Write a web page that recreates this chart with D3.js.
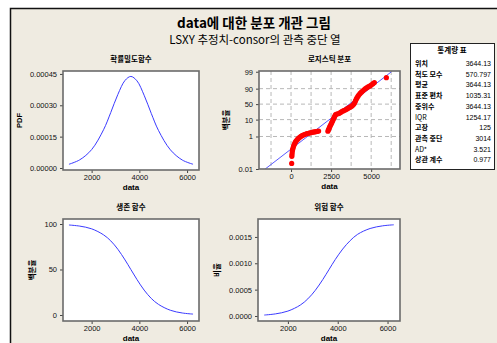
<!DOCTYPE html>
<html>
<head>
<meta charset="utf-8">
<script src="https://cdn.jsdelivr.net/npm/d3@7"></script>
<style>
  body { margin: 0; background: #fff; }
  svg text { font-family: "Liberation Sans", Arial, sans-serif; }
  .kr { font-family: "Noto Sans CJK KR", "Noto Sans", sans-serif; }
</style>
</head>
<body>
<svg width="497" height="343"></svg>
<script>
// fitted logistic curves
const curveX = [1050, 1500, 2000, 2500, 2800, 3100, 3400, 3644, 3900, 4200, 4500, 4800, 5300, 5800, 6250];
const pdfValues = [0.000018, 0.000039, 0.000088, 0.000183, 0.000265, 0.000352, 0.000419, 0.000438,
    0.000417, 0.000348, 0.000261, 0.000180, 0.000087, 0.000038, 0.000018];
const survivalValues = [98.9, 97.7, 94.7, 88.1, 81.5, 72.2, 60.5, 50, 39, 27.4, 18.2, 11.7, 5.2, 2.2, 1.0];
const hazardValues = [0.000018, 0.000040, 0.000093, 0.000208, 0.000325, 0.000487, 0.000691, 0.000876,
    0.00107, 0.00127, 0.00143, 0.00155, 0.00166, 0.00171, 0.00173];

// probability plot: failure times and plotting positions (%)
const failureTimes = [40, 50, 60, 75, 95, 120, 150, 185, 220, 260, 300, 350, 400, 450, 500, 560, 620, 690,
    760, 840, 920, 1000, 1090, 1180, 1270, 1360, 1450, 1540, 1640, 1720,
    2300, 2340, 2380, 2420, 2460, 2500, 2540, 2580, 2620, 2660, 2700, 2740, 2780, 2850, 2930, 3010,
    3090, 3170, 3250, 3330, 3410, 3490, 3570, 3650, 3730, 3800, 3860, 3920, 3970, 4020, 4070, 4120,
    4180, 4240, 4310, 4390, 4470, 4550, 4640, 4730, 4830, 4930, 5020, 5110, 5200, 5950];
const failurePercent = [0.022, 0.06, 0.08, 0.11, 0.15, 0.19, 0.24, 0.30, 0.36, 0.43, 0.50, 0.58, 0.66, 0.75,
    0.84, 0.93, 1.02, 1.12, 1.22, 1.32, 1.42, 1.50, 1.58, 1.66, 1.74, 1.82, 1.90, 1.97, 2.05, 2.12,
    2.1, 2.6, 3.2, 3.9, 4.7, 5.6, 6.7, 8.0, 9.6, 11.4, 13.5, 16.0, 18.5, 19.5, 20.3, 21.2,
    23.5, 25.8, 27.5, 29.3, 31.0, 33.5, 36.0, 38.5, 41.0, 43.5, 46.5, 50.0, 55.0, 61.0, 67.0, 71.5,
    75.5, 79.0, 82.0, 84.5, 86.5, 88.5, 90.0, 91.2, 92.2, 93.0, 94.0, 94.8, 95.5, 97.7];
const fitLineX = [-1613, 6267];
const fitLinePercent = [0.01, 99];

const probTicks = [0.01, 1, 10, 50, 90, 99];
const probGrid = [-1250, 0, 1250, 2500, 3750, 5000, 6250];

const statLabels = ["위치", "척도 모수", "평균", "표준 편차", "중위수", "IQR", "고장", "관측 중단", "AD*", "상관 계수"];
const statValues = ["3644.13", "570.797", "3644.13", "1035.31", "3644.13", "1254.17", "125", "3014", "3.521", "0.977"];

const svg = d3.select("svg");

svg.append("rect")
    .attr("x", 10.5).attr("y", 8.5)
    .attr("width", 500).attr("height", 350)
    .attr("fill", "#EFEBE1")
    .attr("stroke", "#111")
    .attr("stroke-width", 1.5);

svg.append("text").attr("class", "kr")
    .attr("x", 254).attr("y", 28)
    .attr("text-anchor", "middle")
    .attr("font-size", 13.5).attr("font-weight", "bold")
    .text("data에 대한 분포 개관 그림");
svg.append("text").attr("class", "kr")
    .attr("x", 255).attr("y", 44)
    .attr("text-anchor", "middle")
    .attr("font-size", 11.5)
    .text("LSXY 추정치-consor의 관측 중단 열");

const logit = p => Math.log(p / (1 - p));

function styleAxes(xa, ya) {
    [xa, ya].forEach(a => {
        a.select(".domain").remove();
        a.selectAll("line").attr("stroke", "#444");
        a.selectAll("text").attr("font-size", 7.5).attr("fill", "#111")
            .attr("font-family", "Liberation Sans, Arial, sans-serif");
    });
    xa.selectAll("text").attr("y", 10).attr("dy", 0);
}

function panelBase(box, title) {
    const g = svg.append("g");
    g.append("rect")
        .attr("x", box.x0).attr("y", box.y0)
        .attr("width", box.x1 - box.x0).attr("height", box.y1 - box.y0)
        .attr("fill", "#fff");
    g.append("text").attr("class", "kr")
        .attr("x", (box.x0 + box.x1) / 2).attr("y", box.y0 - 9)
        .attr("text-anchor", "middle")
        .attr("font-size", 7.5).attr("font-weight", "bold")
        .text(title);
    g.append("text")
        .attr("x", (box.x0 + box.x1) / 2).attr("y", box.y1 + 20)
        .attr("text-anchor", "middle")
        .attr("font-size", 8).attr("font-weight", "bold")
        .text("data");
    return g;
}

function yLabel(g, box, text, x, cls) {
    g.append("text").attr("class", cls)
        .attr("transform", `translate(${x},${(box.y0 + box.y1) / 2}) rotate(-90)`)
        .attr("text-anchor", "middle")
        .attr("font-size", 7.5).attr("font-weight", "bold")
        .text(text);
}

function panel(box, title, ylab, ylabX, xScale, yScale, xTicks, yTicks, yFmt) {
    const g = panelBase(box, title);
    const xa = g.append("g")
        .attr("transform", `translate(0,${box.y1})`)
        .call(d3.axisBottom(xScale).tickValues(xTicks).tickSize(3).tickSizeOuter(0).tickFormat(d3.format("d")));
    const ya = g.append("g")
        .attr("transform", `translate(${box.x0},0)`)
        .call(d3.axisLeft(yScale).tickValues(yTicks).tickSize(3).tickSizeOuter(0).tickFormat(yFmt));
    styleAxes(xa, ya);
    yLabel(g, box, ylab, ylabX, ylab === "PDF" ? "" : "kr");
    return g;
}

function frame(g, box) {
    g.append("rect")
        .attr("x", box.x0).attr("y", box.y0)
        .attr("width", box.x1 - box.x0).attr("height", box.y1 - box.y0)
        .attr("fill", "none")
        .attr("stroke", "#6b6b6b")
        .attr("stroke-width", 1.6);
}

const curveLine = (x, y, vals) => d3.line()
    .x((d, i) => x(curveX[i]))
    .y(d => y(d))
    .curve(d3.curveCatmullRom)(vals);

// probability density
{
    const box = {x0: 63, x1: 199, y0: 71, y1: 170};
    const x = d3.scaleLinear().domain([800, 6500]).range([box.x0, box.x1]);
    const y = d3.scaleLinear().domain([-0.0000096, 0.000464]).range([box.y1, box.y0]);
    const g = panel(box, "확률밀도함수", "PDF", 22, x, y, [2000, 4000, 6000],
        [0, 0.00015, 0.0003, 0.00045], d3.format(".5f"));
    g.append("path").attr("d", curveLine(x, y, pdfValues))
        .attr("fill", "none").attr("stroke", "#3a3aff").attr("stroke-width", 1);
    frame(g, box);
}

// logistic probability plot
{
    const box = {x0: 259, x1: 400, y0: 71, y1: 169};
    const x = d3.scaleLinear().domain([-2000, 6800]).range([box.x0, box.x1]);
    const y = d3.scaleLinear().domain([logit(0.0001), logit(0.991)]).range([box.y1, box.y0]);
    const yp = p => y(logit(p / 100));
    const g = panelBase(box, "로지스틱 분포");

    g.append("g").selectAll("line")
        .data(probGrid)
        .join("line")
        .attr("x1", d => x(d)).attr("x2", d => x(d))
        .attr("y1", box.y0).attr("y2", box.y1)
        .attr("stroke", "#b8b8b8").attr("stroke-dasharray", "4,3");
    g.append("g").selectAll("line")
        .data(probTicks.filter(d => d > 0.01 && d < 99))
        .join("line")
        .attr("x1", box.x0).attr("x2", box.x1)
        .attr("y1", d => yp(d)).attr("y2", d => yp(d))
        .attr("stroke", "#b8b8b8").attr("stroke-dasharray", "4,3");

    const xa = g.append("g")
        .attr("transform", `translate(0,${box.y1})`)
        .call(d3.axisBottom(x).tickValues([0, 2500, 5000]).tickSize(3).tickSizeOuter(0).tickFormat(d3.format("d")));
    const ya = g.append("g")
        .attr("transform", `translate(${box.x0},0)`)
        .call(d3.axisLeft(y)
            .tickValues(probTicks.map(p => logit(p / 100)))
            .tickSize(3).tickSizeOuter(0)
            .tickFormat((d, i) => String(probTicks[i])));
    styleAxes(xa, ya);
    yLabel(g, box, "백분율", 229, "kr");

    g.append("clipPath").attr("id", "probclip")
        .append("rect")
        .attr("x", box.x0).attr("y", box.y0)
        .attr("width", box.x1 - box.x0).attr("height", box.y1 - box.y0);

    g.append("line")
        .attr("clip-path", "url(#probclip)")
        .attr("x1", x(fitLineX[0])).attr("y1", yp(fitLinePercent[0]))
        .attr("x2", x(fitLineX[1])).attr("y2", yp(fitLinePercent[1]))
        .attr("stroke", "#4646ff").attr("stroke-width", 0.9);

    g.append("g").selectAll("circle")
        .data(failureTimes)
        .join("circle")
        .attr("cx", d => x(d))
        .attr("cy", (d, i) => yp(failurePercent[i]))
        .attr("r", 2.6)
        .attr("fill", "#ff0000");
    frame(g, box);
}

// survival
{
    const box = {x0: 63, x1: 199, y0: 219, y1: 321};
    const x = d3.scaleLinear().domain([800, 6500]).range([box.x0, box.x1]);
    const y = d3.scaleLinear().domain([-6.6, 105.5]).range([box.y1, box.y0]);
    const g = panel(box, "생존 함수", "백분율", 35, x, y, [2000, 4000, 6000],
        [0, 50, 100], d3.format("d"));
    g.append("path").attr("d", curveLine(x, y, survivalValues))
        .attr("fill", "none").attr("stroke", "#3a3aff").attr("stroke-width", 1);
    frame(g, box);
}

// hazard
{
    const box = {x0: 258, x1: 400, y0: 219, y1: 321};
    const x = d3.scaleLinear().domain([800, 6500]).range([box.x0, box.x1]);
    const y = d3.scaleLinear().domain([-0.000095, 0.00184]).range([box.y1, box.y0]);
    const g = panel(box, "위험 함수", "비율", 220, x, y, [2000, 4000, 6000],
        [0, 0.0005, 0.001, 0.0015], d3.format(".4f"));
    g.append("path").attr("d", curveLine(x, y, hazardValues))
        .attr("fill", "none").attr("stroke", "#3a3aff").attr("stroke-width", 1);
    frame(g, box);
}

// statistics table
{
    const t = svg.append("g");
    t.append("rect")
        .attr("x", 410.5).attr("y", 43.5)
        .attr("width", 84).attr("height", 126)
        .attr("fill", "#fff")
        .attr("stroke", "#222").attr("stroke-width", 1);
    t.append("text").attr("class", "kr")
        .attr("x", 452).attr("y", 53)
        .attr("text-anchor", "middle")
        .attr("font-size", 7.5).attr("font-weight", "bold")
        .text("통계량 표");
    t.selectAll(".lab")
        .data(statLabels)
        .join("text")
        .attr("class", "kr")
        .attr("x", 415).attr("y", (d, i) => 66 + i * 10.7)
        .attr("font-size", 7).attr("font-weight", d => d === "IQR" || d === "AD*" ? "normal" : "bold")
        .text(d => d);
    t.selectAll(".val")
        .data(statValues)
        .join("text")
        .attr("x", 491).attr("y", (d, i) => 66 + i * 10.7)
        .attr("text-anchor", "end")
        .attr("font-size", 7)
        .text(d => d);
}
</script>
</body>
</html>
